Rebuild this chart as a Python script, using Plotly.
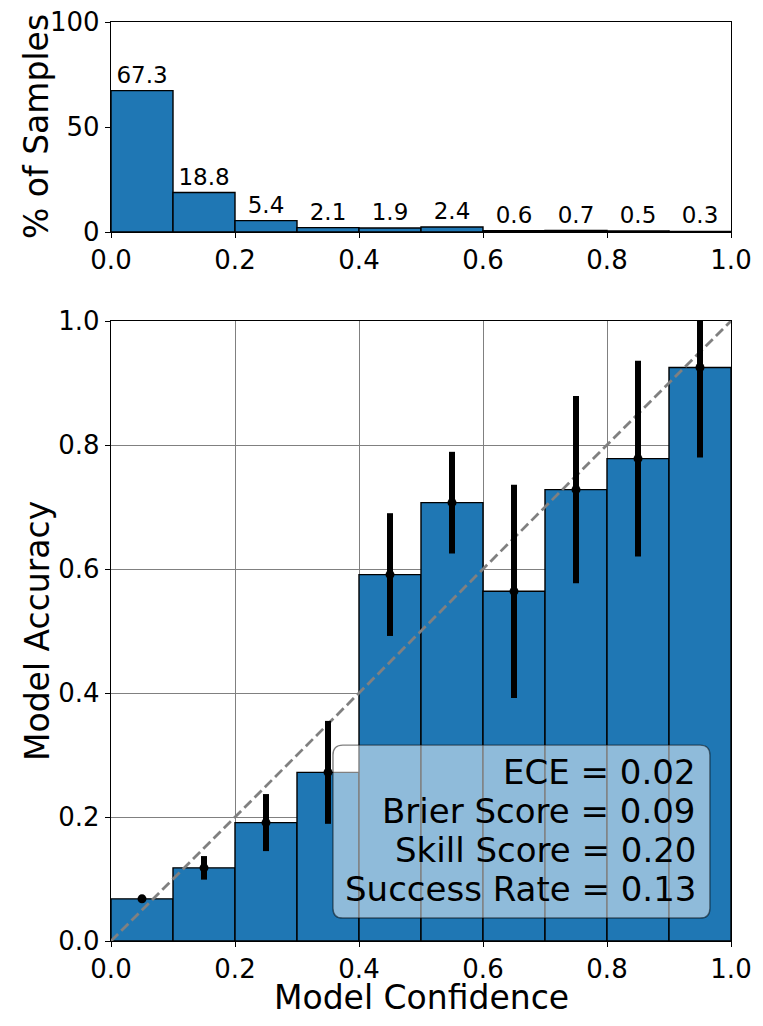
# %%
# reliability diagram: sample histogram on top, accuracy vs confidence below
import plotly.graph_objects as go
from plotly.subplots import make_subplots

# %%
# data
bin_centers = [0.05, 0.15, 0.25, 0.35, 0.45, 0.55, 0.65, 0.75, 0.85, 0.95]
pct_samples = [67.3, 18.8, 5.4, 2.1, 1.9, 2.4, 0.6, 0.7, 0.5, 0.3]
accuracy = [0.068, 0.118, 0.191, 0.272, 0.591, 0.707, 0.564, 0.728, 0.778, 0.925]
acc_err = [0.005, 0.019, 0.046, 0.083, 0.099, 0.082, 0.172, 0.151, 0.158, 0.145]
metric_names = ["ECE", "Brier Score", "Skill Score", "Success Rate"]
metric_values = [0.02, 0.09, 0.20, 0.13]

BLUE = "#1f77b4"
FONT = "DejaVu Sans"

# %%
fig = make_subplots(rows=2, cols=1)

# top: % of samples per bin
fig.add_trace(
    go.Bar(
        x=bin_centers,
        y=pct_samples,
        width=0.1,
        marker=dict(color=BLUE, line=dict(color="black", width=1.4)),
        text=[f"{v:.1f}" for v in pct_samples],
        textposition="outside",
        textfont=dict(size=23, color="black", family=FONT),
        cliponaxis=False,
    ),
    row=1,
    col=1,
)

# bottom: accuracy bars
fig.add_trace(
    go.Bar(
        x=bin_centers,
        y=accuracy,
        width=0.1,
        marker=dict(color=BLUE, line=dict(color="black", width=1.4)),
    ),
    row=2,
    col=1,
)

# perfect calibration diagonal
fig.add_trace(
    go.Scatter(
        x=[0, 1],
        y=[0, 1],
        mode="lines",
        line=dict(color="gray", width=2.8, dash="10px,4.5px"),
    ),
    row=2,
    col=1,
)

# error bars with markers
fig.add_trace(
    go.Scatter(
        x=bin_centers,
        y=accuracy,
        mode="markers",
        marker=dict(color="black", size=9),
        error_y=dict(type="data", array=acc_err, color="black", thickness=6, width=0),
    ),
    row=2,
    col=1,
)

# %%
# layout: page body has an 8px margin, so shift the pixel boxes by that
OFF = 8
W, H = 763 - OFF, 1026 - OFF


def px_x(p):
    return (p - OFF) / W


def px_y(p):
    return 1 - (p - OFF) / H


axis_common = dict(
    showline=True,
    linecolor="black",
    linewidth=1.4,
    mirror=True,
    ticks="outside",
    ticklen=5,
    tickwidth=1.4,
    tickcolor="black",
    tickfont=dict(size=26, color="black", family=FONT),
    ticklabeloverflow="allow",
    zeroline=False,
    automargin=False,
)

fig.update_layout(
    width=W,
    height=H,
    margin=dict(l=0, r=0, t=0, b=0),
    plot_bgcolor="white",
    paper_bgcolor="white",
    showlegend=False,
    barmode="overlay",
    font=dict(family=FONT, color="black"),
)
fig.update_xaxes(
    domain=[px_x(111), px_x(731)], range=[0, 1],
    tickvals=[0, 0.2, 0.4, 0.6, 0.8, 1.0], tickformat=".1f",
    **axis_common
)
fig.update_yaxes(**axis_common)
fig.update_xaxes(showgrid=False, row=1, col=1)
fig.update_yaxes(
    domain=[px_y(232), px_y(22)], range=[0, 100], tickvals=[0, 50, 100],
    showgrid=False, row=1, col=1,
)
fig.update_xaxes(showgrid=True, gridcolor="gray", gridwidth=1.1, row=2, col=1)
fig.update_yaxes(
    domain=[px_y(941), px_y(321)], range=[0, 1],
    tickvals=[0, 0.2, 0.4, 0.6, 0.8, 1.0], tickformat=".1f",
    showgrid=True, gridcolor="gray", gridwidth=1.1, row=2, col=1,
)

# axis titles as annotations
title_font = dict(size=33, color="black", family=FONT)
titles = [
    ("% of Samples", 36, 127, -90),
    ("Model Accuracy", 37, 631, -90),
    ("Model Confidence", 421, 997, 0),
]
for text, tx, ty, angle in titles:
    fig.add_annotation(
        text=text, xref="paper", yref="paper", x=px_x(tx), y=px_y(ty),
        xanchor="center", yanchor="middle", textangle=angle,
        showarrow=False, font=title_font,
    )

# metrics box with rounded corners
bx0, bx1, by0, by1, r = 0.358, 0.966, 0.037, 0.316, 0.016
path = (
    f"M {bx0 + r},{by0} L {bx1 - r},{by0} Q {bx1},{by0} {bx1},{by0 + r} "
    f"L {bx1},{by1 - r} Q {bx1},{by1} {bx1 - r},{by1} "
    f"L {bx0 + r},{by1} Q {bx0},{by1} {bx0},{by1 - r} "
    f"L {bx0},{by0 + r} Q {bx0},{by0} {bx0 + r},{by0} Z"
)
fig.add_shape(
    type="path", path=path, xref="x2", yref="y2", layer="above",
    fillcolor="rgba(255,255,255,0.5)", line=dict(color="rgba(0,0,0,0.5)", width=1.4),
)
for i, (name, val) in enumerate(zip(metric_names, metric_values)):
    fig.add_annotation(
        text=f"{name} = {val:.2f}", xref="x2", yref="y2",
        x=0.946, y=0.273 - i * 0.0629, xanchor="right", yanchor="middle",
        showarrow=False, font=dict(size=34, color="black", family=FONT),
    )

fig.write_html("out.html")
